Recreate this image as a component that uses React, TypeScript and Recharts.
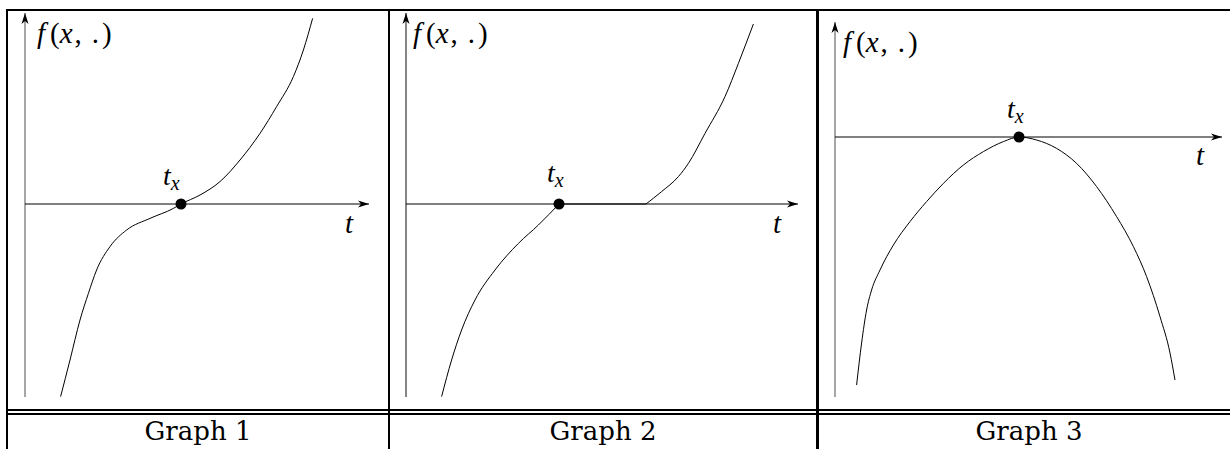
import { LineChart, Line, XAxis, YAxis, ReferenceLine, ReferenceDot } from 'recharts';

// 1 data unit = 20px in every panel
const UNIT = 20;

const graph1T = [1.78, 2.25, 2.75, 3.17, 3.58, 4.25, 5.08, 6.25, 7.42, 7.8, 8.75, 9.75, 10.75, 11.75, 12.58, 13.42, 13.92, 14.38];
const graph1F = [-9.63, -7.8, -5.8, -4.47, -3.3, -2.13, -1.3, -0.72, -0.22, 0, 0.45, 1.12, 2.2, 3.53, 4.87, 6.37, 7.7, 9.28];

// graph 2 has kinks, so it is drawn as three pieces
const graph2LeftT = [1.78, 2.28, 2.78, 3.45, 4.45, 5.62, 6.62, 7.65];
const graph2LeftF = [-9.63, -7.8, -6.3, -4.8, -3.3, -1.97, -1.05, 0];
const graph2FlatT = [7.65, 12.0];
const graph2FlatF = [0, 0];
const graph2RightT = [12.0, 12.78, 13.62, 14.12, 14.95, 15.95, 16.62, 17.37];
const graph2RightF = [0, 0.62, 1.37, 2.03, 3.53, 5.37, 7.03, 9.0];

const graph3T = [1.08, 1.33, 1.58, 1.83, 2.25, 2.92, 3.75, 4.58, 5.42, 6.42, 7.42, 8.42, 9.2, 10.08, 11.08, 12.08, 13.08, 14.08, 14.92, 15.58, 16.25, 16.75, 17.0];
const graph3F = [-12.4, -10.3, -8.65, -7.65, -6.65, -5.4, -4.23, -3.23, -2.32, -1.4, -0.73, -0.23, 0, -0.15, -0.57, -1.32, -2.48, -3.98, -5.48, -6.98, -8.98, -10.8, -12.15];

// root t_x of each graph
const rootT = [7.8, 7.65, 9.2];

const captions = ['Graph 1', 'Graph 2', 'Graph 3'];

const toRows = (ts: number[], fs: number[]) => ts.map((t, i) => ({ t, f: fs[i] }));

const panels = [
  {
    left: 9, top: 11, width: 379, height: 398, ox: 25, oy: 204,
    tEnd: 17.2, fTop: 9.55, fBottom: -9.65, yColor: '#777',
    fLabel: [0.6, 8.05], txLabel: [6.9, 0.95], tLabel: [16.0, -1.45],
    pieces: [toRows(graph1T, graph1F)],
  },
  {
    left: 391, top: 11, width: 425, height: 398, ox: 406, oy: 204,
    tEnd: 19.6, fTop: 9.55, fBottom: -9.65, yColor: '#444',
    fLabel: [0.35, 8.05], txLabel: [7.05, 1.1], tLabel: [18.35, -1.45],
    pieces: [
      toRows(graph2LeftT, graph2LeftF),
      toRows(graph2FlatT, graph2FlatF),
      toRows(graph2RightT, graph2RightF),
    ],
  },
  {
    left: 819, top: 11, width: 411, height: 398, ox: 835, oy: 137,
    tEnd: 19.35, fTop: 5.75, fBottom: -13, yColor: '#777',
    fLabel: [0.4, 4.25], txLabel: [8.6, 0.95], tLabel: [18.05, -1.4],
    pieces: [toRows(graph3T, graph3F)],
  },
];

const FONT = 'Liberation Serif';
const CAPTION_FONT = 'DejaVu Serif';

const ArrowRight = ({ cx, cy }: any) => (
  <path d={`M${cx},${cy} L${cx - 11},${cy - 3.5} L${cx - 8},${cy} L${cx - 11},${cy + 3.5} Z`} fill="#000" />
);

const ArrowUp = ({ cx, cy }: any) => (
  <path d={`M${cx},${cy} L${cx - 3.5},${cy + 11} L${cx},${cy + 8} L${cx + 3.5},${cy + 11} Z`} fill="#000" />
);

const FLabel = ({ cx, cy }: any) => (
  <text x={cx} y={cy} fontFamily={FONT} fontSize={29} fill="#000">
    <tspan fontStyle="italic">f</tspan>
    <tspan dx={5}>(</tspan>
    <tspan fontStyle="italic">x</tspan>
    <tspan dx={2}>,</tspan>
    <tspan dx={10}>.</tspan>
    <tspan dx={3}>)</tspan>
  </text>
);

const TxLabel = ({ cx, cy }: any) => (
  <text x={cx} y={cy} fontFamily={FONT} fontSize={28} fontStyle="italic" fill="#000">
    <tspan>t</tspan>
    <tspan fontSize={20} dy={5}>x</tspan>
  </text>
);

const TLabel = ({ cx, cy }: any) => (
  <text x={cx} y={cy} fontFamily={FONT} fontSize={29} fontStyle="italic" fill="#000">t</text>
);

function Panel({ p, root }: { p: (typeof panels)[number]; root: number }) {
  const tDomain = [(p.left - p.ox) / UNIT, (p.left + p.width - p.ox) / UNIT];
  const fDomain = [(p.oy - p.top - p.height) / UNIT, (p.oy - p.top) / UNIT];
  return (
    <div style={{ position: 'absolute', left: p.left, top: p.top }}>
      <LineChart width={p.width} height={p.height} margin={{ top: 0, right: 0, bottom: 0, left: 0 }}>
        <XAxis type="number" dataKey="t" domain={tDomain} allowDataOverflow hide />
        <YAxis type="number" domain={fDomain} allowDataOverflow hide />
        <ReferenceLine segment={[{ x: 0, y: p.fBottom }, { x: 0, y: p.fTop }]} stroke={p.yColor} strokeWidth={1.3} />
        <ReferenceLine segment={[{ x: 0, y: 0 }, { x: p.tEnd, y: 0 }]} stroke="#000" strokeWidth={1} />
        <ReferenceDot x={p.tEnd} y={0} shape={ArrowRight} />
        <ReferenceDot x={0} y={p.fTop} shape={ArrowUp} />
        {p.pieces.map((rows, i) => (
          <Line key={i} data={rows} type="monotone" dataKey="f" stroke="#000" strokeWidth={1}
            dot={false} isAnimationActive={false} />
        ))}
        <ReferenceDot x={root} y={0} r={5.5} fill="#000" stroke="none" />
        <ReferenceDot x={p.fLabel[0]} y={p.fLabel[1]} shape={FLabel} />
        <ReferenceDot x={p.txLabel[0]} y={p.txLabel[1]} shape={TxLabel} />
        <ReferenceDot x={p.tLabel[0]} y={p.tLabel[1]} shape={TLabel} />
      </LineChart>
    </div>
  );
}

const line = (left: number, top: number, width: number, height: number) => (
  <div key={`${left}-${top}`} style={{ position: 'absolute', left, top, width, height, background: '#000' }} />
);

export default function App() {
  const captionX = [198, 603, 1029];
  return (
    <div style={{ position: 'absolute', left: 0, top: 0, width: 1230, height: 449, overflow: 'hidden', background: '#fff' }}>
      {panels.map((p, i) => (
        <Panel key={i} p={p} root={rootT[i]} />
      ))}
      {line(6, 9, 1224, 2)}
      {line(6, 409, 1224, 2)}
      {line(6, 413, 1224, 2)}
      {line(6, 9, 2, 440)}
      {line(388, 9, 2, 440)}
      {line(816, 9, 3, 440)}
      <svg width={1230} height={449} style={{ position: 'absolute', left: 0, top: 0, pointerEvents: 'none' }}>
        {captions.map((c, i) => (
          <text key={c} x={captionX[i]} y={440} textAnchor="middle" fontFamily={CAPTION_FONT} fontSize={26} fill="#000">
            {c}
          </text>
        ))}
      </svg>
    </div>
  );
}
